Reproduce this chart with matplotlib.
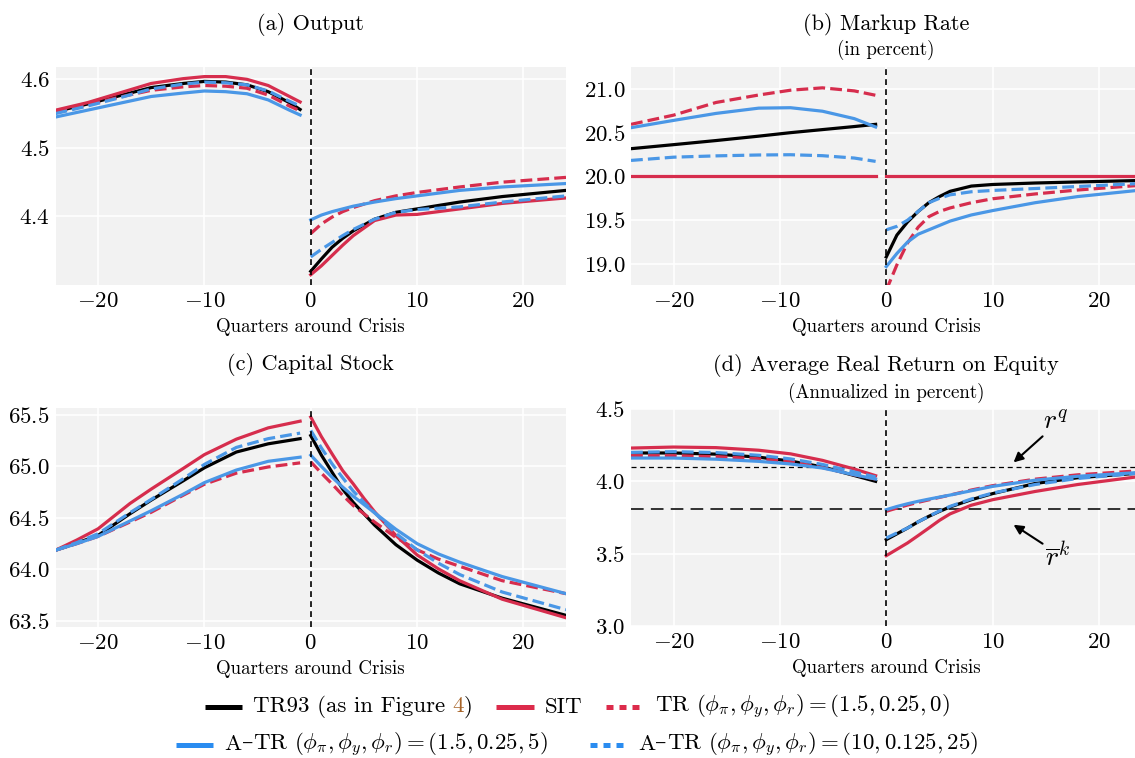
import matplotlib
matplotlib.use("Agg")
import matplotlib.pyplot as plt
from matplotlib.lines import Line2D
from matplotlib.offsetbox import HPacker, TextArea, DrawingArea, AnchoredOffsetbox

plt.rcParams['font.family'] = ['cmr10', 'DejaVu Serif']
plt.rcParams['mathtext.fontset'] = 'cm'
plt.rcParams['axes.formatter.use_mathtext'] = True
plt.rcParams['axes.unicode_minus'] = True

# ---------------- data ----------------
series = ["TR93 (as in Figure 4)", "SIT", "TR", "A-TR (1.5,0.25,5)", "A-TR (10,0.125,25)"]

# (a) Output
a_x_pre = [-24, -21, -18, -15, -12, -10, -8, -6, -4, -2, -1]
a_x_post = [0, 1, 2, 3, 4, 6, 8, 10, 14, 18, 24]
a_tr93_pre = [4.553, 4.564, 4.576, 4.588, 4.594, 4.597, 4.596, 4.592, 4.582, 4.566, 4.556]
a_sit_pre = [4.555, 4.566, 4.580, 4.594, 4.601, 4.604, 4.604, 4.600, 4.591, 4.575, 4.567]
a_tr_pre = [4.553, 4.563, 4.574, 4.584, 4.589, 4.591, 4.590, 4.587, 4.577, 4.561, 4.554]
a_atr1_pre = [4.545, 4.555, 4.565, 4.575, 4.580, 4.583, 4.582, 4.579, 4.570, 4.555, 4.548]
a_atr2_pre = [4.550, 4.561, 4.573, 4.586, 4.593, 4.596, 4.595, 4.592, 4.583, 4.568, 4.561]
a_tr93_post = [4.320, 4.338, 4.355, 4.368, 4.379, 4.396, 4.406, 4.411, 4.421, 4.429, 4.438]
a_sit_post = [4.315, 4.328, 4.343, 4.358, 4.372, 4.394, 4.402, 4.403, 4.411, 4.419, 4.427]
a_tr_post = [4.375, 4.389, 4.399, 4.407, 4.413, 4.423, 4.430, 4.435, 4.443, 4.450, 4.457]
a_atr1_post = [4.395, 4.402, 4.407, 4.411, 4.415, 4.421, 4.426, 4.430, 4.438, 4.443, 4.448]
a_atr2_post = [4.341, 4.352, 4.362, 4.372, 4.381, 4.396, 4.406, 4.410, 4.414, 4.421, 4.430]

# (b) Markup rate
b_x_pre = [-24, -20, -16, -12, -9, -6, -3, -1]
b_x_post = [0, 1, 2, 3, 4, 5, 6, 8, 10, 14, 18, 24]
b_tr93_pre = [20.317, 20.363, 20.41, 20.46, 20.50, 20.535, 20.57, 20.595]
b_sit_pre = [20.0, 20.0, 20.0, 20.0, 20.0, 20.0, 20.0, 20.0]
b_tr_pre = [20.595, 20.70, 20.845, 20.93, 20.985, 21.012, 20.977, 20.927]
b_atr1_pre = [20.557, 20.64, 20.72, 20.78, 20.785, 20.745, 20.66, 20.565]
b_atr2_pre = [20.183, 20.22, 20.235, 20.245, 20.248, 20.237, 20.21, 20.172]
b_tr93_post = [19.08, 19.33, 19.48, 19.60, 19.70, 19.77, 19.83, 19.89, 19.908, 19.925, 19.937, 19.954]
b_sit_post = [20.0, 20.0, 20.0, 20.0, 20.0, 20.0, 20.0, 20.0, 20.0, 20.0, 20.0, 20.0]
b_tr_post = [18.70, 18.99, 19.24, 19.42, 19.54, 19.60, 19.64, 19.70, 19.745, 19.80, 19.845, 19.90]
b_atr1_post = [18.97, 19.12, 19.25, 19.34, 19.39, 19.44, 19.49, 19.56, 19.61, 19.70, 19.77, 19.845]
b_atr2_post = [19.39, 19.43, 19.50, 19.60, 19.70, 19.75, 19.79, 19.825, 19.84, 19.862, 19.885, 19.92]

# (c) Capital stock
c_x_pre = [-24, -22, -20, -17, -15, -12, -10, -7, -4, -1]
c_x_post = [0, 1, 2, 3, 4, 5, 6, 8, 10, 12, 14, 18, 24]
c_tr93_pre = [64.186, 64.255, 64.33, 64.54, 64.673, 64.86, 64.987, 65.14, 65.22, 65.27]
c_sit_pre = [64.186, 64.285, 64.394, 64.64, 64.78, 64.98, 65.115, 65.265, 65.375, 65.44]
c_tr_pre = [64.186, 64.25, 64.32, 64.46, 64.555, 64.72, 64.827, 64.935, 64.995, 65.035]
c_atr1_pre = [64.186, 64.25, 64.32, 64.47, 64.57, 64.73, 64.843, 64.965, 65.05, 65.09]
c_atr2_pre = [64.186, 64.26, 64.346, 64.55, 64.68, 64.88, 65.02, 65.185, 65.27, 65.324]
c_tr93_post = [65.30, 65.11, 64.945, 64.78, 64.65, 64.54, 64.43, 64.24, 64.09, 63.965, 63.86, 63.72, 63.553]
c_sit_post = [65.48, 65.29, 65.123, 64.96, 64.83, 64.69, 64.56, 64.33, 64.14, 64.005, 63.89, 63.71, 63.53]
c_tr_post = [65.045, 64.935, 64.83, 64.72, 64.62, 64.54, 64.46, 64.31, 64.19, 64.10, 64.03, 63.89, 63.764]
c_atr1_post = [65.11, 65.00, 64.896, 64.80, 64.71, 64.63, 64.55, 64.39, 64.25, 64.15, 64.07, 63.93, 63.764]
c_atr2_post = [65.35, 65.18, 65.026, 64.89, 64.76, 64.65, 64.55, 64.35, 64.19, 64.06, 63.95, 63.78, 63.608]

# (d) Average real return on equity
d_x_pre = [-24, -20, -16, -12, -9, -6, -3, -1]
d_x_post = [0, 1, 2, 3, 4, 5, 6, 8, 10, 14, 18, 24]
d_tr93_pre = [4.196, 4.196, 4.188, 4.167, 4.14, 4.10, 4.04, 4.0]
d_sit_pre = [4.23, 4.237, 4.233, 4.215, 4.19, 4.145, 4.085, 4.039]
d_tr_pre = [4.177, 4.177, 4.171, 4.156, 4.137, 4.095, 4.045, 4.016]
d_atr1_pre = [4.161, 4.161, 4.153, 4.138, 4.12, 4.092, 4.045, 4.016]
d_atr2_pre = [4.20, 4.205, 4.199, 4.18, 4.155, 4.117, 4.065, 4.03]
d_tr93_post = [3.597, 3.637, 3.677, 3.72, 3.758, 3.792, 3.823, 3.873, 3.915, 3.985, 4.025, 4.058]
d_sit_post = [3.486, 3.53, 3.574, 3.625, 3.677, 3.73, 3.775, 3.835, 3.873, 3.93, 3.978, 4.035]
d_tr_post = [3.793, 3.815, 3.836, 3.855, 3.872, 3.889, 3.905, 3.94, 3.97, 4.015, 4.045, 4.074]
d_atr1_post = [3.804, 3.826, 3.845, 3.862, 3.877, 3.891, 3.905, 3.935, 3.965, 4.008, 4.035, 4.062]
d_atr2_post = [3.608, 3.643, 3.677, 3.72, 3.758, 3.795, 3.827, 3.878, 3.919, 3.978, 4.02, 4.058]
d_rq = 4.10
d_rk = 3.81

# ---------------- style ----------------
RED = '#d62d4d'
BLUE = '#4a97e6'
BLACK = '#000000'
BG = '#f2f2f2'
styles = [
    dict(color=BLACK, ls='-'),
    dict(color=RED, ls='-'),
    dict(color=RED, ls='--'),
    dict(color=BLUE, ls='-'),
    dict(color=BLUE, ls='--'),
]
LW = 2.3
TICK_FS = 16.5

W, H = 1135, 758
fig = plt.figure(figsize=(W / 100, H / 100), dpi=100)


def rect(l, t, w, h):
    return [l / W, 1 - (t + h) / H, w / W, h / H]


ax_a = fig.add_axes(rect(55.5, 67, 510.5, 218))
ax_b = fig.add_axes(rect(631, 67, 510.5, 218))
ax_c = fig.add_axes(rect(55.5, 408, 510.5, 219))
ax_d = fig.add_axes(rect(631, 409, 510.5, 217))

panels = [
    (ax_a, a_x_pre, a_x_post,
     [a_tr93_pre, a_sit_pre, a_tr_pre, a_atr1_pre, a_atr2_pre],
     [a_tr93_post, a_sit_post, a_tr_post, a_atr1_post, a_atr2_post],
     (4.30, 4.618), [4.4, 4.5, 4.6], '(a) Output', None),
    (ax_b, b_x_pre, b_x_post,
     [b_tr93_pre, b_sit_pre, b_tr_pre, b_atr1_pre, b_atr2_pre],
     [b_tr93_post, b_sit_post, b_tr_post, b_atr1_post, b_atr2_post],
     (18.76, 21.25), [19.0, 19.5, 20.0, 20.5, 21.0], '(b) Markup Rate', '(in percent)'),
    (ax_c, c_x_pre, c_x_post,
     [c_tr93_pre, c_sit_pre, c_tr_pre, c_atr1_pre, c_atr2_pre],
     [c_tr93_post, c_sit_post, c_tr_post, c_atr1_post, c_atr2_post],
     (63.44, 65.568), [63.5, 64.0, 64.5, 65.0, 65.5], '(c) Capital Stock', None),
    (ax_d, d_x_pre, d_x_post,
     [d_tr93_pre, d_sit_pre, d_tr_pre, d_atr1_pre, d_atr2_pre],
     [d_tr93_post, d_sit_post, d_tr_post, d_atr1_post, d_atr2_post],
     (3.0, 4.5), [3.0, 3.5, 4.0, 4.5], '(d) Average Real Return on Equity',
     '(Annualized in percent)'),
]

for ax, xpre, xpost, pre, post, ylim, yt, title, sub in panels:
    ax.set_facecolor(BG)
    for s in ax.spines.values():
        s.set_visible(False)
    ax.grid(True, color='white', lw=1.2)
    ax.set_axisbelow(True)
    if ax is ax_d:
        ax.axhline(d_rq, color='black', lw=0.9, ls=(0, (4, 3)), zorder=1.5)
        ax.axhline(d_rk, color='#222222', lw=1.3, ls=(0, (7, 4)), zorder=1.5)
    for st, yp, yq in zip(styles, pre, post):
        ax.plot(xpre, yp, color=st['color'], ls=st['ls'], lw=LW, zorder=2)
        ax.plot(xpost, yq, color=st['color'], ls=st['ls'], lw=LW, zorder=2)
    ax.axvline(0, color='black', lw=1.2, ls=(0, (3.5, 2.5)), zorder=3)
    ax.set_xlim(-24, 24)
    ax.set_ylim(*ylim)
    ax.set_xticks([-20, -10, 0, 10, 20])
    ax.set_yticks(yt)
    ax.tick_params(length=0, labelsize=TICK_FS)
    ax.tick_params(axis='x', pad=5)
    ax.tick_params(axis='y', pad=4)
    ax.set_xlabel('Quarters around Crisis', fontsize=13.6, labelpad=5)
    ax.text(0.5, 1.195 if ax in (ax_a, ax_b) else 1.2, title, transform=ax.transAxes,
            ha='center', va='center', fontsize=16)
    if sub:
        ax.text(0.5, 1.077 if ax is ax_b else 1.073, sub, transform=ax.transAxes,
                ha='center', va='center', fontsize=13.6)

# annotations in (d)
ax_d.annotate('', xy=(11.97, 4.131), xytext=(14.7, 4.311),
              arrowprops=dict(arrowstyle='-|>', color='black', lw=1.5,
                              mutation_scale=14, shrinkA=0, shrinkB=0))
ax_d.text(15.9, 4.41, r'$r^q$', fontsize=20, ha='center', va='center')
ax_d.annotate('', xy=(11.97, 3.70), xytext=(14.7, 3.569),
              arrowprops=dict(arrowstyle='-|>', color='black', lw=1.5,
                              mutation_scale=14, shrinkA=0, shrinkB=0))
ax_d.text(16.1, 3.47, r'$\overline{r}^k$', fontsize=20, ha='center', va='center')

# ---------------- legend ----------------
LEG_FS = 16.5
LEG_RED = '#dc2b4b'
LEG_BLUE = '#2a8cf0'
BROWN = '#a8652a'


def handle(color, dashed):
    da = DrawingArea(27, 10, 0, 0)
    ls = (0, (1.4, 1.2)) if dashed else '-'
    da.add_artist(Line2D([0, 27], [5, 5], color=color, lw=3.6, ls=ls,
                         solid_capstyle='butt', dash_capstyle='butt'))
    return da


def ta(txt, color='black', family=None):
    props = dict(fontsize=LEG_FS, color=color)
    if family:
        props['family'] = family
    return TextArea(txt, textprops=props)


def entry(h, text_box):
    return HPacker(children=[h, text_box], align='center', pad=0, sep=8)


def atr_label(math):
    return HPacker(children=[ta('A'), ta('\u2013', family='DejaVu Serif'), ta('TR ' + math)],
                   align='baseline', pad=0, sep=0)


lab1 = HPacker(children=[ta('TR93 (as in Figure'),
                         HPacker(children=[ta('4', BROWN), ta(')')], align='baseline', pad=0, sep=0)],
               align='baseline', pad=0, sep=5)
row1 = HPacker(children=[
    entry(handle(BLACK, False), lab1),
    entry(handle(LEG_RED, False), ta('SIT')),
    entry(handle(LEG_RED, True), ta(r'TR $(\phi_\pi,\phi_y,\phi_r)=(1.5,0.25,0)$')),
], align='center', pad=0, sep=17)
row2 = HPacker(children=[
    entry(handle(LEG_BLUE, False), atr_label(r'$(\phi_\pi,\phi_y,\phi_r)=(1.5,0.25,5)$')),
    entry(handle(LEG_BLUE, True), atr_label(r'$(\phi_\pi,\phi_y,\phi_r)=(10,0.125,25)$')),
], align='center', pad=0, sep=30)

for row, yc in [(row1, 1 - 707 / H), (row2, 1 - 745 / H)]:
    box = AnchoredOffsetbox(loc='center', child=row, pad=0, borderpad=0, frameon=False,
                            bbox_to_anchor=(577 / W, yc), bbox_transform=fig.transFigure)
    fig.add_artist(box)

fig.savefig('out.png', dpi=100)
